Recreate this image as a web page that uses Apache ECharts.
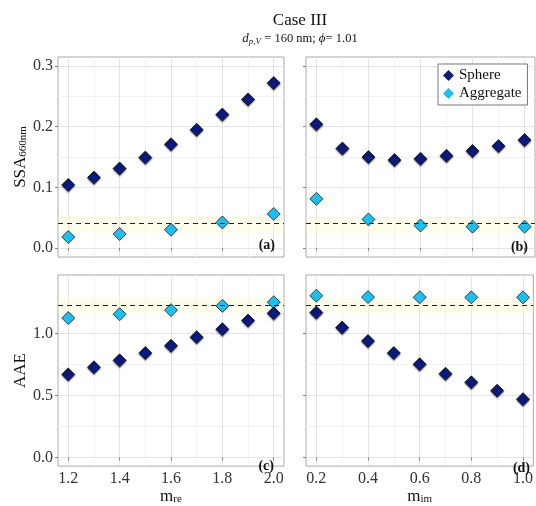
<!DOCTYPE html>
<html><head><meta charset="utf-8">
<script src="https://cdn.jsdelivr.net/npm/echarts@6/dist/echarts.min.js"></script>
<style>html,body{margin:0;padding:0;background:#fff}#c{width:536px;height:506px}</style>
</head><body><div id="c"></div>
<script>
// ---------- data ----------
const mre = [1.2, 1.3, 1.4, 1.5, 1.6, 1.7, 1.8, 1.9, 2.0];
const mreAgg = [1.2, 1.4, 1.6, 1.8, 2.0];
const mim = [0.2, 0.3, 0.4, 0.5, 0.6, 0.7, 0.8, 0.9, 1.0];
const mimAgg = [0.2, 0.4, 0.6, 0.8, 1.0];

const ssaSphereRe = [0.104, 0.116, 0.131, 0.149, 0.171, 0.195, 0.220, 0.245, 0.272];
const ssaAggRe    = [0.018, 0.023, 0.030, 0.042, 0.056];
const ssaSphereIm = [0.204, 0.164, 0.150, 0.145, 0.147, 0.152, 0.160, 0.168, 0.178];
const ssaAggIm    = [0.081, 0.047, 0.037, 0.035, 0.035];
const aaeSphereRe = [0.669, 0.726, 0.782, 0.841, 0.900, 0.969, 1.033, 1.103, 1.162];
const aaeAggRe    = [1.123, 1.154, 1.187, 1.221, 1.251];
const aaeSphereIm = [1.167, 1.046, 0.938, 0.841, 0.751, 0.674, 0.605, 0.538, 0.469];
const aaeAggIm    = [1.303, 1.292, 1.290, 1.290, 1.290];

// reference lines and bands (a, b, c, d)
const refLine = [0.043, 0.041, 1.231, 1.231];
const refBandLo = [0.025, 0.024, 1.160, 1.162];
const refBandHi = [0.053, 0.050, 1.290, 1.282];

// ticks
const mreTicks = [1.2, 1.4, 1.6, 1.8, 2.0];
const mreMinor = [1.3, 1.5, 1.7, 1.9];
const mimTicks = [0.2, 0.4, 0.6, 0.8, 1.0];
const mimMinor = [0.3, 0.5, 0.7, 0.9];
const ssaTicks = [0.0, 0.1, 0.2, 0.3];
const ssaMinor = [0.05, 0.15, 0.25];
const aaeTicks = [0.0, 0.5, 1.0];
const aaeMinor = [0.25, 0.75, 1.25];
const panelLabels = ['(a)', '(b)', '(c)', '(d)'];

// ---------- layout ----------
const FONT = 'Liberation Serif';
const grids = [
  {left: 58, top: 57, width: 226, height: 200},
  {left: 306, top: 57, width: 229, height: 200},
  {left: 58, top: 275, width: 226, height: 200},
  {left: 306, top: 275, width: 229, height: 200}
];
const xDom = [[1.16, 2.04], [0.16, 1.04], [1.16, 2.04], [0.16, 1.04]];
const yDom = [[-0.015, 0.315], [-0.015, 0.315], [-0.07, 1.47], [-0.07, 1.47]];
const xMaj = [mreTicks, mimTicks, mreTicks, mimTicks];
const xMin = [mreMinor, mimMinor, mreMinor, mimMinor];
const yMaj = [ssaTicks, ssaTicks, aaeTicks, aaeTicks];
const yMin = [ssaMinor, ssaMinor, aaeMinor, aaeMinor];

const SPHERE = '#0c1a7e', AGG = '#1cbff0';

const xAxes = [], yAxes = [];
for (let i = 0; i < 4; i++) {
  const bottom = i >= 2, left = i % 2 === 0;
  xAxes.push({
    type: 'value', gridIndex: i, min: xDom[i][0], max: xDom[i][1], position: 'bottom',
    axisLine: {show: false},
    axisTick: {show: true, customValues: xMaj[i], length: 3, lineStyle: {color: '#888'}},
    axisLabel: {show: bottom, customValues: xMaj[i], formatter: v => v.toFixed(1),
      fontFamily: FONT, fontSize: 16, color: '#333', margin: 5},
    splitLine: {show: true, lineStyle: {color: '#e4e4e4', width: 1}},
    name: bottom ? (i === 2 ? '{m|m}{s|re}' : '{m|m}{s|im}') : '',
    nameLocation: 'middle', nameGap: 15,
    nameTextStyle: {fontFamily: FONT, color: '#111', rich: {
      m: {fontFamily: FONT, fontSize: 17, color: '#111', lineHeight: 16},
      s: {fontFamily: FONT, fontSize: 11, color: '#111', lineHeight: 10, verticalAlign: 'bottom'}}}
  });
  xAxes.push({
    type: 'value', gridIndex: i, min: xDom[i][0], max: xDom[i][1], position: 'top',
    axisLine: {show: false},
    axisTick: {show: false, customValues: xMin[i]},
    axisLabel: {show: false, customValues: xMin[i]},
    splitLine: {show: true, lineStyle: {color: '#f3f3f3', width: 1}}
  });
  yAxes.push({
    type: 'value', gridIndex: i, min: yDom[i][0], max: yDom[i][1], position: 'left',
    axisLine: {show: false},
    axisTick: {show: true, customValues: yMaj[i], length: 3, lineStyle: {color: '#888'}},
    axisLabel: {show: left, customValues: yMaj[i], formatter: v => v.toFixed(1),
      fontFamily: FONT, fontSize: 16, color: '#333', margin: 5},
    splitLine: {show: true, lineStyle: {color: '#e4e4e4', width: 1}},
    name: left ? (i === 0 ? '{m|SSA}{s|660nm}' : '{m|AAE}') : '',
    nameLocation: 'middle', nameGap: 29, nameRotate: 90,
    nameTextStyle: {fontFamily: FONT, color: '#111', rich: {
      m: {fontFamily: FONT, fontSize: 17, color: '#111', lineHeight: 16},
      s: {fontFamily: FONT, fontSize: 11, color: '#111', lineHeight: 10, verticalAlign: 'bottom'}}}
  });
  yAxes.push({
    type: 'value', gridIndex: i, min: yDom[i][0], max: yDom[i][1], position: 'right',
    axisLine: {show: false},
    axisTick: {show: false, customValues: yMin[i]},
    axisLabel: {show: false, customValues: yMin[i]},
    splitLine: {show: true, lineStyle: {color: '#f3f3f3', width: 1}}
  });
}

const sphereX = [mre, mim, mre, mim];
const sphereY = [ssaSphereRe, ssaSphereIm, aaeSphereRe, aaeSphereIm];
const aggX = [mreAgg, mimAgg, mreAgg, mimAgg];
const aggY = [ssaAggRe, ssaAggIm, aaeAggRe, aaeAggIm];
const zip = (a, b) => a.map((v, k) => [v, b[k]]);

const series = [];
for (let i = 0; i < 4; i++) {
  series.push({
    name: 'Aggregate', type: 'scatter', xAxisIndex: 2 * i, yAxisIndex: 2 * i,
    symbol: 'diamond', symbolSize: 13, z: 3,
    itemStyle: {color: AGG, borderColor: '#1a1a1a', borderWidth: 0.8, opacity: 1},
    data: zip(aggX[i], aggY[i]),
    markArea: {silent: true, itemStyle: {color: 'rgba(255,248,200,0.35)'},
      data: [[{yAxis: refBandLo[i]}, {yAxis: refBandHi[i]}]]},
    markLine: {silent: true, symbol: 'none', label: {show: false},
      lineStyle: {color: '#222', type: [5, 4], width: 1.2},
      data: [{yAxis: refLine[i]}]}
  });
  series.push({
    name: 'Sphere', type: 'scatter', xAxisIndex: 2 * i, yAxisIndex: 2 * i,
    symbol: 'diamond', symbolSize: 13, z: 4,
    itemStyle: {color: SPHERE, borderColor: '#111', borderWidth: 0.8, opacity: 1,
      shadowColor: 'rgba(0,0,0,0.45)', shadowBlur: 1.5, shadowOffsetY: 1.2},
    data: zip(sphereX[i], sphereY[i])
  });
}

const labelPos = [[275, 245], [528, 247], [274, 466], [530, 468]];
const graphic = panelLabels.map((t, i) => ({
  type: 'text', x: labelPos[i][0], y: labelPos[i][1], z: 10,
  style: {text: t, fontFamily: FONT, fontSize: 14, fontWeight: 'bold', fill: '#111',
    align: 'right', verticalAlign: 'middle'}
}));

const chart = echarts.init(document.getElementById('c'), null, {renderer: 'canvas'});
chart.setOption({
  animation: false,
  backgroundColor: '#fff',
  title: {
    left: 295, top: 7, textAlign: 'center', itemGap: 3,
    text: 'Case III',
    textStyle: {fontFamily: FONT, fontSize: 17, fontWeight: 'normal', color: '#111'},
    subtext: '{i|d}{sub|p,V}{n| = 160 nm; }{i|ϕ}{n|= 1.01}',
    subtextStyle: {fontFamily: FONT, fontSize: 12, color: '#111', rich: {
      i: {fontFamily: FONT, fontSize: 13, fontStyle: 'italic', color: '#111', lineHeight: 14},
      sub: {fontFamily: FONT, fontSize: 9, fontStyle: 'italic', color: '#111', lineHeight: 8, verticalAlign: 'bottom'},
      n: {fontFamily: FONT, fontSize: 12.5, color: '#111', lineHeight: 14}}}
  },
  legend: {
    data: ['Sphere', 'Aggregate'], orient: 'vertical', left: 438, top: 64,
    icon: 'diamond', itemWidth: 11, itemHeight: 11, itemGap: 3,
    padding: [4, 6, 4, 5], borderColor: '#777', borderWidth: 1, backgroundColor: '#fff',
    textStyle: {fontFamily: FONT, fontSize: 15, color: '#111'},
    itemStyle: {borderWidth: 0}
  },
  grid: grids.map(g => Object.assign({show: true, borderColor: '#a9a9a9', borderWidth: 1,
    backgroundColor: 'transparent'}, g)),
  xAxis: xAxes, yAxis: yAxes, series: series, graphic: graphic
});
</script></body></html>
